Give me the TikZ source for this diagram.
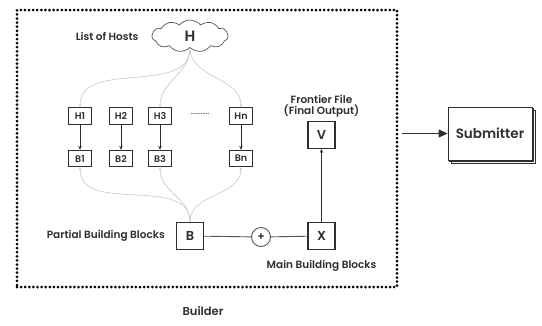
\documentclass[tikz,border=0pt]{standalone}
\usepackage{fontspec}
\setmainfont{Poppins}[BoldFont={Poppins SemiBold}]
\usetikzlibrary{arrows.meta,positioning,shapes.symbols,shadows}
\definecolor{ink}{HTML}{2E2E2E}
\definecolor{edge}{HTML}{555555}
\definecolor{wire}{HTML}{C6C6C6}

\begin{document}
\begin{tikzpicture}[x=1pt,y=-1pt,font=\bfseries\fontsize{7}{8}\selectfont,text=ink,
    blk/.style={draw=ink,line width=1.1pt,fill=white,minimum width=23pt,minimum height=16.5pt,inner sep=0pt,font=\bfseries\fontsize{9.5}{9.5}\selectfont},
    big/.style={blk,minimum width=27pt,minimum height=27pt,font=\bfseries\fontsize{13}{13}\selectfont},
    lbl/.style={inner sep=1pt,font=\bfseries\fontsize{10.5}{11.5}\selectfont},
    fan/.style={draw=wire,line width=0.6pt,-{Stealth[length=3pt,width=2.5pt]}},
    link/.style={draw=ink,line width=0.9pt,-{Stealth[length=4pt,width=3.5pt]}}]
  \useasboundingbox (0,0) rectangle (542,325);

  \node[draw=black,line width=3pt,dash pattern=on 0pt off 4.1pt,line cap=round,minimum width=380pt,minimum height=277pt] (frame) at (207,148.5) {};
  \node[lbl,below=17pt of frame,xshift=-4pt,font=\bfseries\fontsize{11.5}{12}\selectfont] (builder) {Builder};

  \node[cloud,draw=edge,line width=0.7pt,cloud puffs=11,cloud puff arc=100,aspect=2.5,minimum width=76pt,minimum height=32pt,font=\bfseries\fontsize{15}{15}\selectfont] (h) at (190,36) {H};
  \node[lbl,left=12pt of h] (hosts) {List of Hosts};

  \node[blk] (h1) at (80,116) {H1};
  \node[blk] (h2) at (121,116) {H2};
  \node[blk] (h3) at (160,116) {H3};
  \node[blk] (hn) at (241,116) {Hn};
  \node[font=\mdseries\fontsize{8}{8}\selectfont] (dots) at (200,114) {...........};
  \node[blk,below=25pt of h1] (b1) {B1};
  \node[blk,below=25pt of h2] (b2) {B2};
  \node[blk,below=25pt of h3] (b3) {B3};
  \node[blk,below=25pt of hn] (bn) {Bn};

  \node[big] (b) at (190,236) {B};
  \node[lbl,left=10pt of b] (partial) {Partial Building Blocks};
  \node[circle,draw=edge,line width=0.9pt,minimum size=19pt,inner sep=0pt,font=\bfseries\fontsize{11}{11}\selectfont] (plus) at (261,237) {+};
  \node[big] (x) at (321.5,236) {X};
  \node[lbl,below=9pt of x] (main) {Main Building Blocks};
  \node[big,above=73pt of x] (v) {V};
  \node[lbl,above=2pt of v,align=center] (frontier) {Frontier File\\(Final Output)};

  \foreach \i in {1,2,3,n}
    \draw[link] (h\i) -- (b\i);
  \foreach \i in {1,3,n} {
    \draw[fan] (h.south) to[out=-90,in=90] (h\i.north);
    \draw[fan] (b.north) to[out=90,in=-90] (b\i.south);
  }

  \draw[edge,line width=0.9pt] (b) -- (plus) -- (x);
  \draw[link] (x) -- (v);

  \node[draw=ink,line width=0.8pt,fill=white,minimum width=84pt,minimum height=53pt,font=\bfseries\fontsize{13.5}{14}\selectfont,
    double copy shadow={shadow xshift=1.8pt,shadow yshift=-1.8pt}] (sub) at (490,133.5) {Submitter};
  \draw[ink,line width=1.1pt,-{Triangle[length=9pt,width=8pt]},shorten <=3pt] (frame.east |- sub.west) -- (sub.west);
\end{tikzpicture}
\end{document}
